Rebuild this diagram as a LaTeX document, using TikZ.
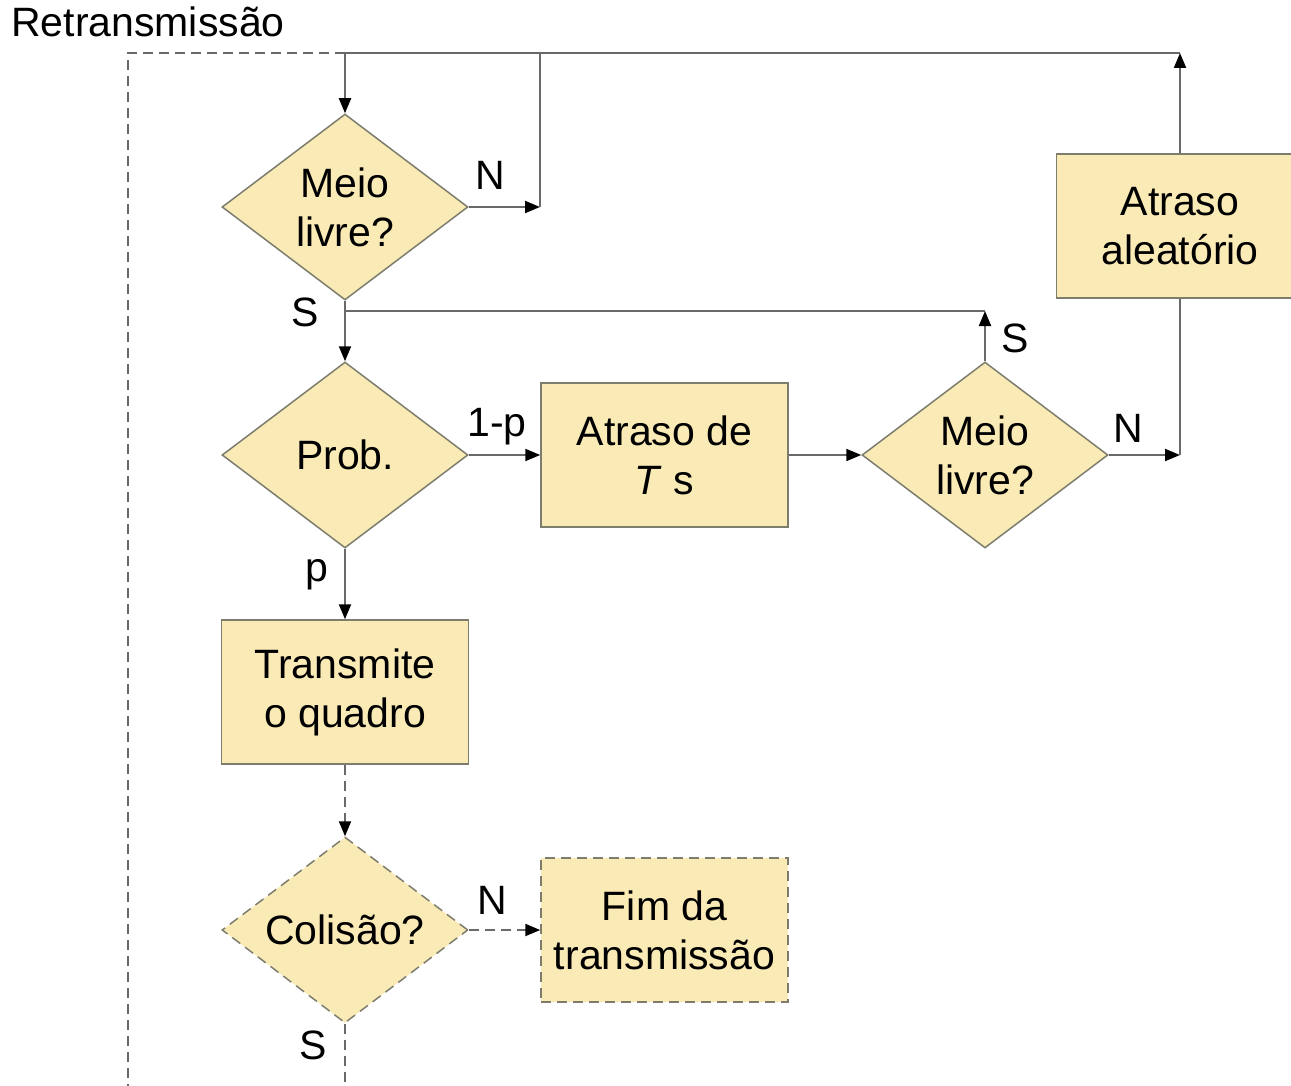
\documentclass[tikz,border=0pt]{standalone}
\usepackage{fontspec}
\setmainfont{Liberation Sans}
\usetikzlibrary{shapes.geometric,arrows.meta}
\definecolor{boxfill}{RGB}{250,234,182}
\definecolor{boxline}{RGB}{125,125,110}
\definecolor{conn}{RGB}{105,105,105}
\begin{document}
\begin{tikzpicture}[x=1pt,y=-1pt,
  every node/.style={font=\fontsize{41}{49}\selectfont},
  dec/.style={shape=diamond,draw=boxline,fill=boxfill,line width=1.5pt,inner sep=0pt,aspect=1.3226,minimum width=246pt,minimum height=186pt,align=center},
  procbox/.style={shape=rectangle,draw=boxline,fill=boxfill,line width=1.5pt,inner sep=0pt,minimum width=247pt,minimum height=144pt,align=center},
  dsh/.style={dash pattern=on 10pt off 6pt},
  conline/.style={draw=conn,line width=2pt},
  arr/.style={conline,-{Triangle[length=15pt,width=12pt,fill=black,color=black]}},
  lbl/.style={inner sep=0pt}]
\useasboundingbox (0,0) rectangle (1291,1086);

% nodes
\node[dec] (d1) at (345,207) {Meio\\livre?};
\node[dec] (d2) at (345,455) {Prob.};
\node[procbox] (atT) at (664.5,455) {Atraso de\\\textit{T} s};
\node[dec] (d3) at (985,455) {Meio\\livre?};
\node[procbox] (aleat) at (1180,226) {Atraso\\aleatório};
\node[procbox] (trans) at (345,692) {Transmite\\o quadro};
\node[dec,dsh] (d4) at (345,930) {Colisão?};
\node[procbox,dsh] (fim) at (664.5,930) {Fim da\\transmissão};

% coordinates
\coordinate (topL) at (128,53);
\coordinate (topM) at (345,53);
\coordinate (topN) at (540,53);
\coordinate (topR) at (1180,53);
\coordinate (nN) at (540,207);
\coordinate (sJ) at (345,311);
\coordinate (sR) at (985,311);
\coordinate (nR) at (1180,455);
\coordinate (botM) at (345,1086);
\coordinate (botL) at (128,1086);

% connectors
\draw[conline,dsh] (topM) -- (topL) -- (botL);
\draw[conline] (topM) -- (topR);
\draw[arr] (topM) -- (d1.north);
\draw[arr] (d1.east) -- (nN);
\draw[conline] (nN) -- (topN);
\draw[arr] (d1.south) -- (d2.north);
\draw[conline] (sJ) -- (sR);
\draw[arr] (d3.north) -- (sR);
\draw[arr] (d2.east) -- (atT.west);
\draw[arr] (atT.east) -- (d3.west);
\draw[arr] (d3.east) -- (nR);
\draw[conline] (nR) -- (aleat.south);
\draw[arr] (aleat.north) -- (topR);
\draw[arr] (d2.south) -- (trans.north);
\draw[arr,dsh] (trans.south) -- (d4.north);
\draw[arr,dsh] (d4.east) -- (fim.west);
\draw[conline,dsh] (d4.south) -- (botM);

% labels
\node[lbl] (tRet) at (148,22) {Retransmissão};
\node[lbl] (l1) at (490,175) {N};
\node[lbl] (l2) at (305,312) {S};
\node[lbl] (l3) at (1015,338) {S};
\node[lbl] (l4) at (497,427) {1-p};
\node[lbl] (l5) at (1128,428) {N};
\node[lbl] (l6) at (317,575) {p};
\node[lbl] (l7) at (492,900) {N};
\node[lbl] (l8) at (313,1045) {S};
\end{tikzpicture}
\end{document}
